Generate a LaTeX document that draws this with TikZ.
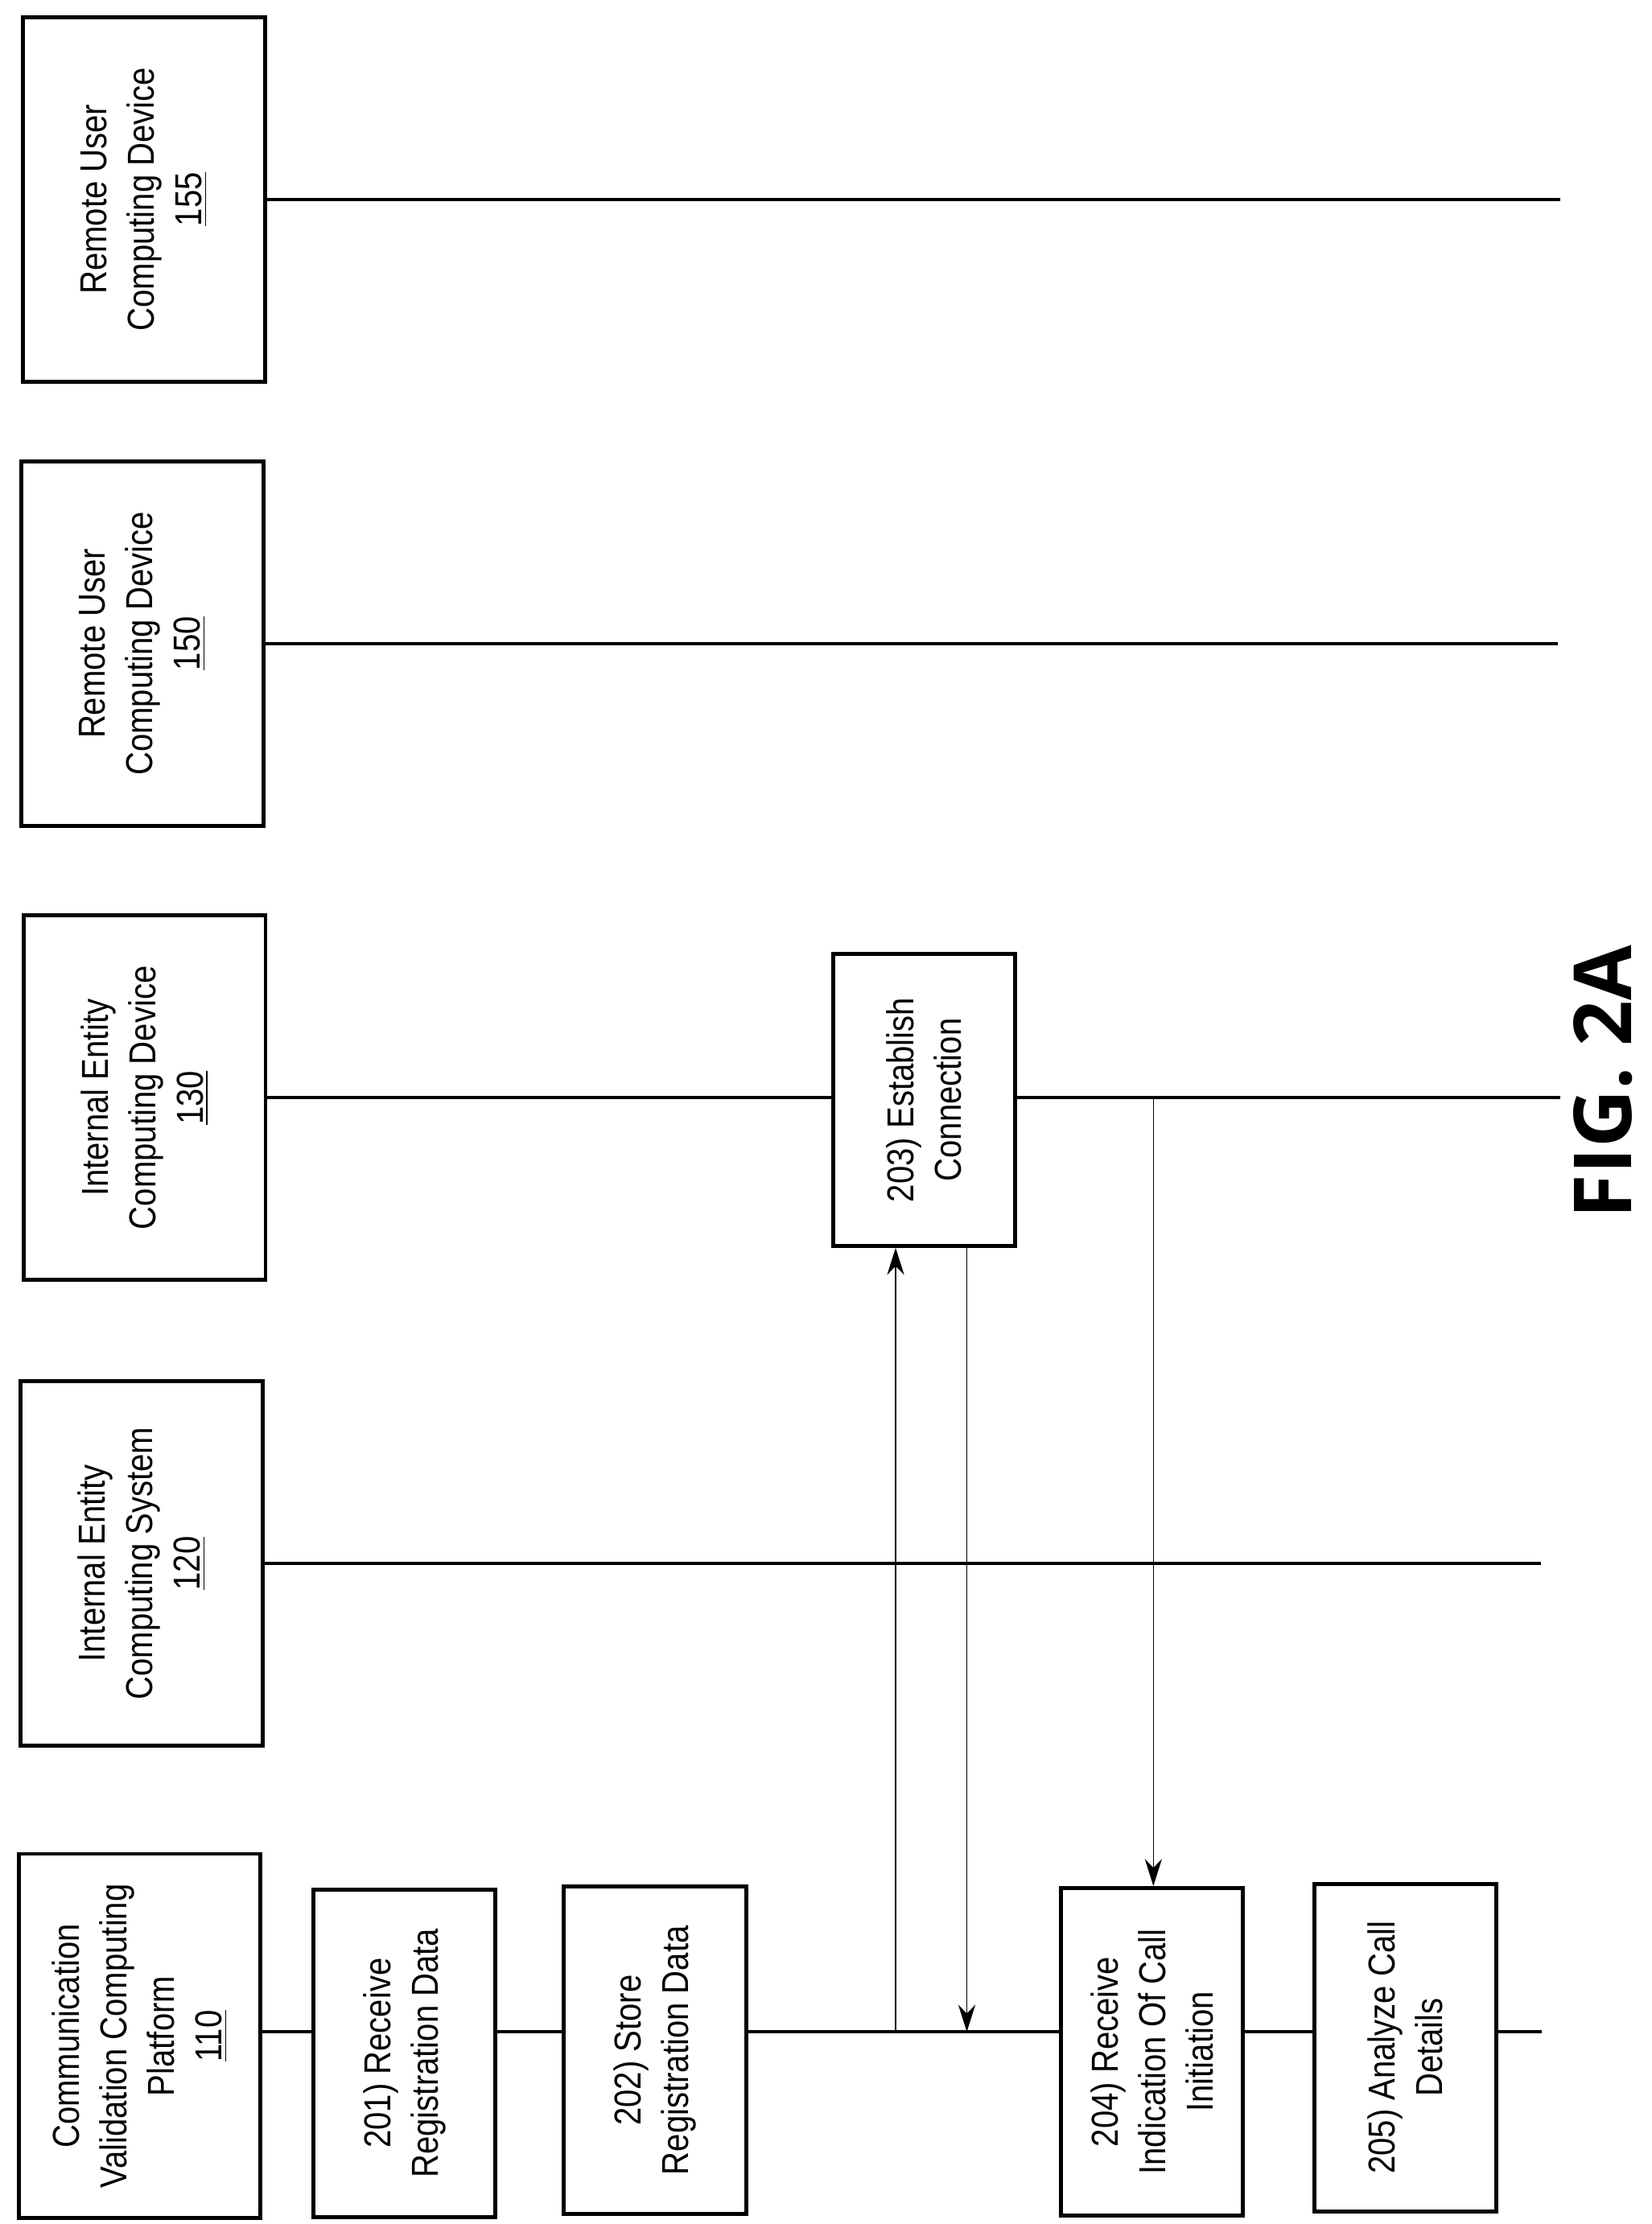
\documentclass[tikz,border=0pt]{standalone}
\usepackage{fontspec}
\setmainfont[FakeStretch=0.86]{Liberation Sans}
\newfontfamily\figfont{Open Sans}
\usetikzlibrary{backgrounds,arrows.meta}
\tikzset{
  lifebox/.style={draw, line width=1.6pt, fill=white, rotate=90, align=center,
    minimum width=5.12cm, minimum height=3.4cm, inner sep=2pt, font=\fontsize{15}{19}\selectfont},
  stepbox/.style={draw, line width=1.6pt, fill=white, rotate=90, align=center,
    minimum width=4.6cm, minimum height=2.56cm, inner sep=2pt, font=\fontsize{15}{19}\selectfont},
  lifeline/.style={line width=1.3pt},
  msg/.style={line width=0.5pt, -{Stealth[length=0.38cm, width=0.24cm]}}
}
\begin{document}
\begin{tikzpicture}[x=0.02cm, y=-0.02cm]
\useasboundingbox (0,0) rectangle (1160,1562);

% lifeline heads
\node[lifebox] (n155) at (101,140) {Remote User\\Computing Device\\\underline{155}};
\node[lifebox] (n150) at (100,452) {Remote User\\Computing Device\\\underline{150}};
\node[lifebox] (n130) at (101.5,771) {Internal Entity\\Computing Device\\\underline{130}};
\node[lifebox] (n120) at (99.5,1098) {Internal Entity\\Computing System\\\underline{120}};
\node[lifebox] (n110) at (98,1430) {Communication\\Validation Computing\\Platform\\\underline{110}};

% steps
\node[stepbox] (s201) at (284,1442) {201) Receive\\Registration Data};
\node[stepbox] (s202) at (460,1440) {202) Store\\Registration Data};
\node[stepbox, minimum width=4.1cm] (s203) at (649,772.5) {203) Establish\\Connection};
\node[stepbox] (s204) at (809,1441) {204) Receive\\Indication Of Call\\Initiation};
\node[stepbox] (s205) at (987,1438) {205) Analyze Call\\Details};

% lifelines
\coordinate (e155) at (1096,140);
\coordinate (e150) at (1094,452);
\coordinate (e130) at (1096,771);
\coordinate (e120) at (1082,1098);
\coordinate (e110) at (1083,1427);
\begin{scope}[on background layer]
\draw[lifeline] (n155.south) -- (e155);
\draw[lifeline] (n150.south) -- (e150);
\draw[lifeline] (n130.south |- e130) -- (e130);
\draw[lifeline] (n120.south) -- (e120);
\draw[lifeline] (n110.south |- e110) -- (e110);
\end{scope}

% messages
\coordinate (m1) at (629,1427);
\coordinate (m2) at (679,1427);
\coordinate (m3) at (810,771);
\draw[msg] (m1) -- (m1 |- s203.west);
\draw[msg] (m2 |- s203.west) -- (m2);
\draw[msg] (m3) -- (m3 |- s204.east);

\node[rotate=90, font=\figfont\fontsize{32}{38}\selectfont\bfseries] (fig) at (1126,760) {FIG. 2A};
\end{tikzpicture}
\end{document}
